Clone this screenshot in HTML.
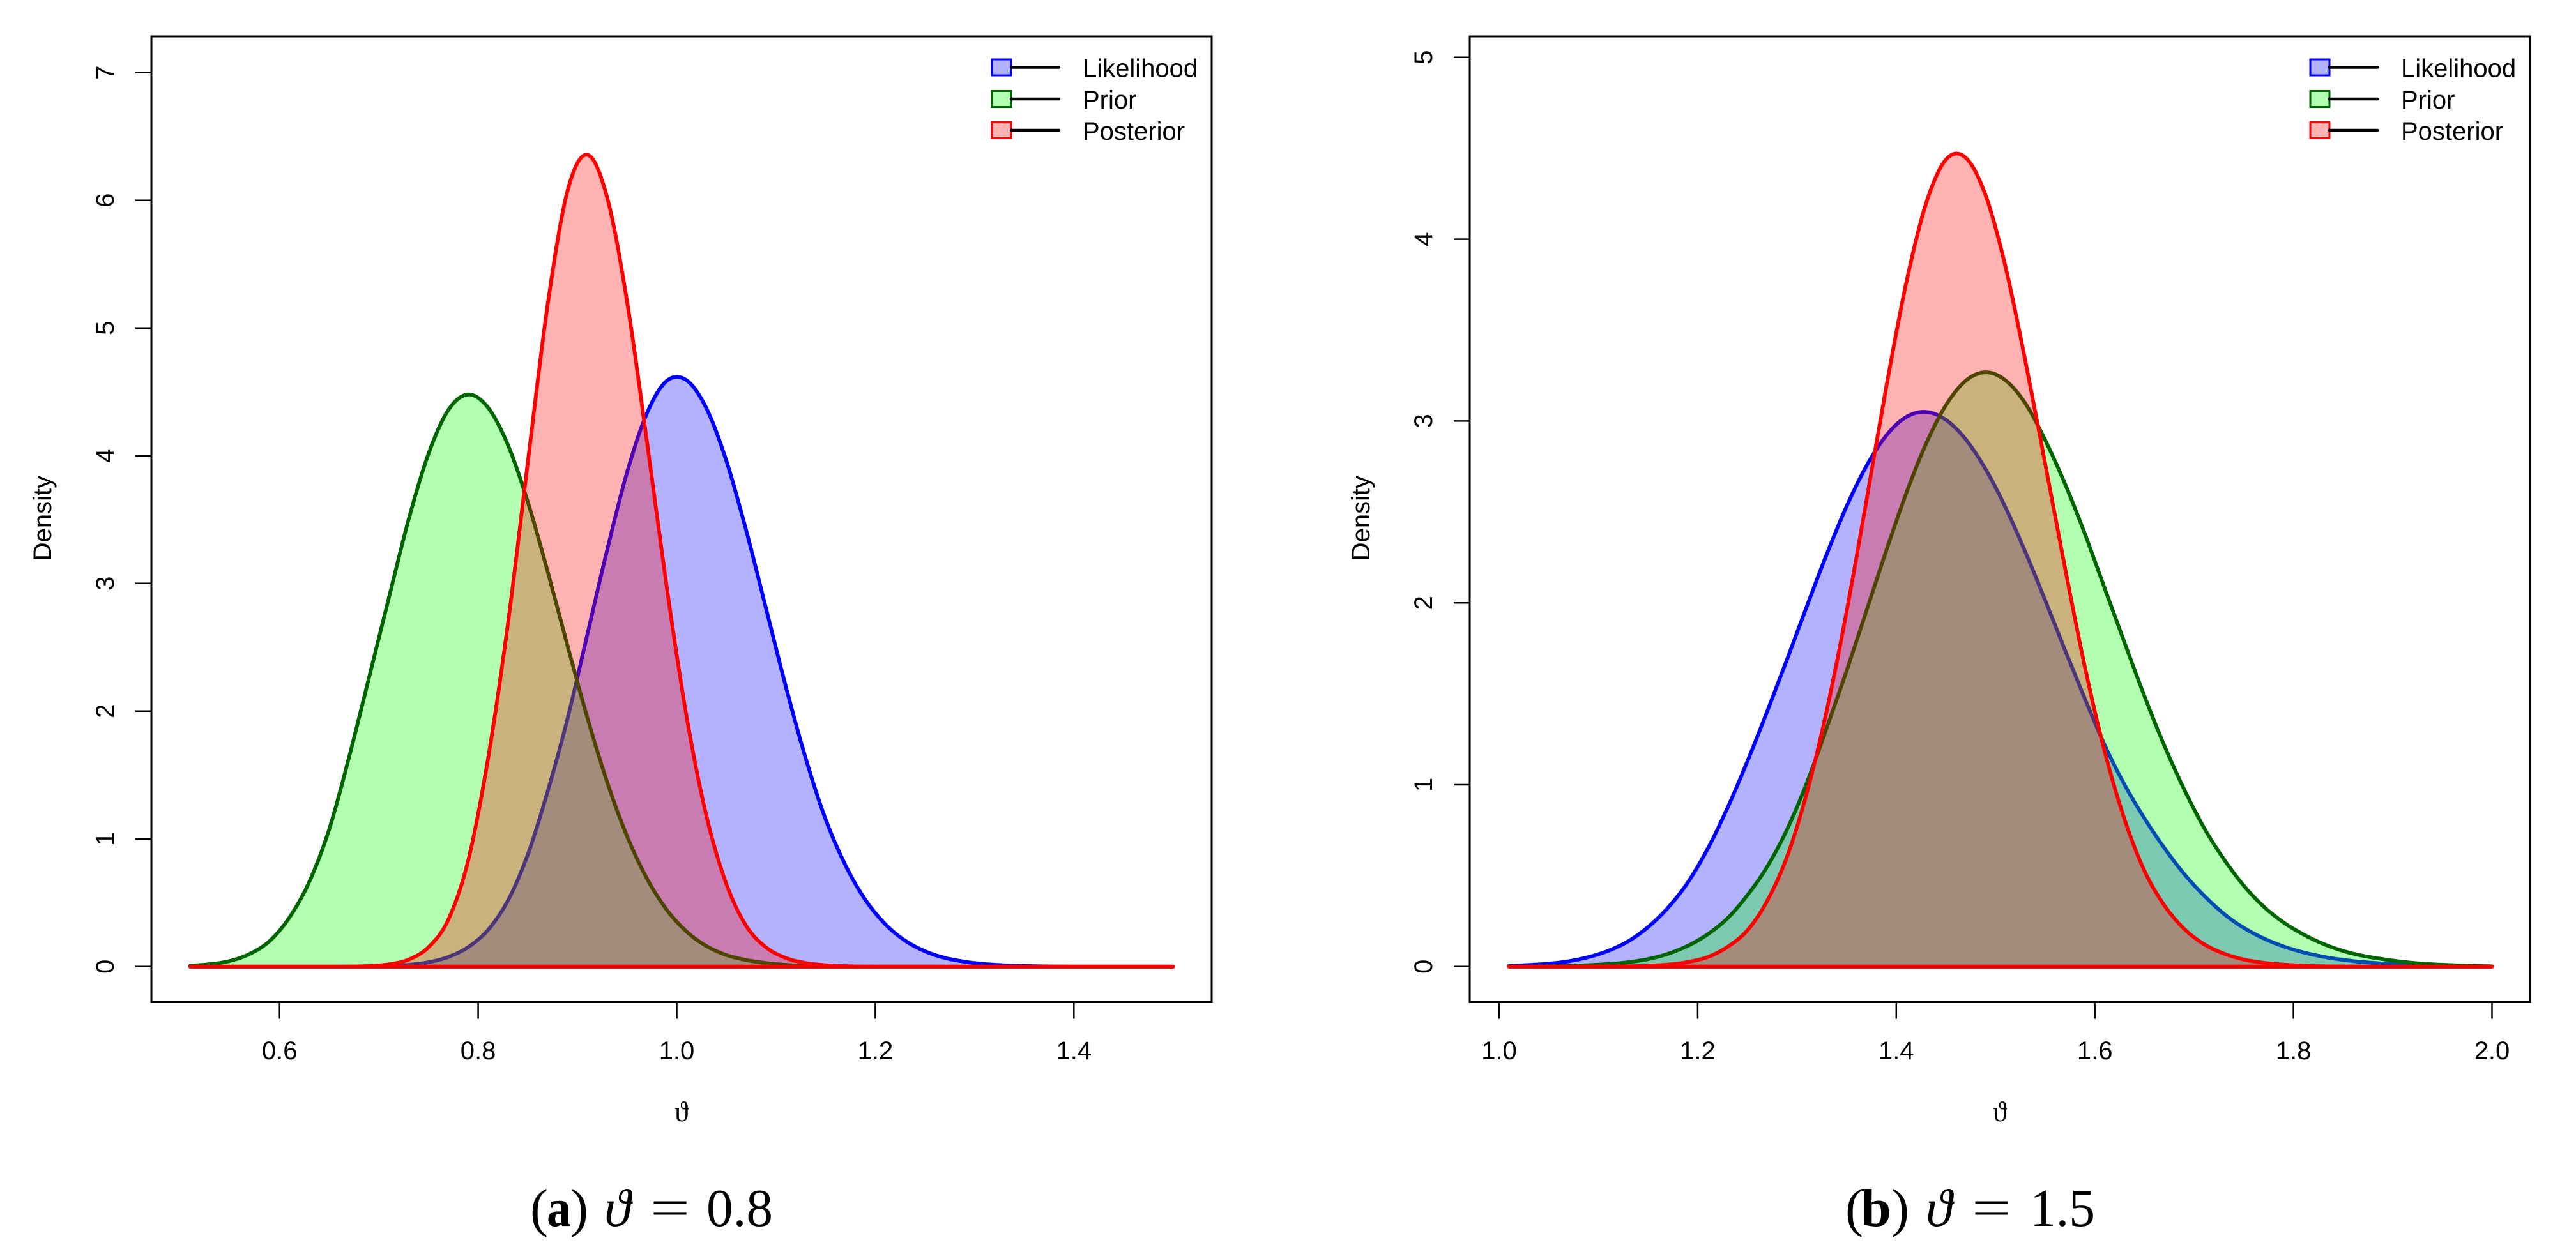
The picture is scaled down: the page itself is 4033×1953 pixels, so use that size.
<!DOCTYPE html>
<html lang="en">
<head>
<meta charset="utf-8">
<title>Likelihood, prior and posterior densities</title>
<style>
html,body{margin:0;padding:0;background:#fff;}
svg{display:block;}
text{font-family:"Liberation Sans",sans-serif;fill:#000;}
.cap{font-family:"Liberation Serif","DejaVu Serif",serif;font-size:84px;}
</style>
</head>
<body>
<svg id="chart" xmlns="http://www.w3.org/2000/svg" width="4033" height="1953" viewBox="0 0 4033 1953">
  <rect x="0" y="0" width="4033" height="1953" fill="#fff"/>
  <g id="plots"></g>

  <g>
    <text class="cap" x="830" y="1920" textLength="28" lengthAdjust="spacingAndGlyphs">(</text>
    <text class="cap" x="856" y="1920" font-weight="bold" textLength="38" lengthAdjust="spacingAndGlyphs">a</text>
    <text class="cap" x="893" y="1920" textLength="28" lengthAdjust="spacingAndGlyphs">)</text>
    <text class="cap" x="946" y="1920" font-style="italic">ϑ</text>
    <text class="cap" x="1018" y="1920" textLength="62" lengthAdjust="spacingAndGlyphs">=</text>
    <text class="cap" x="1106" y="1920" textLength="104" lengthAdjust="spacingAndGlyphs">0.8</text>
  </g>
  <g>
    <text class="cap" x="2889" y="1920" textLength="28" lengthAdjust="spacingAndGlyphs">(</text>
    <text class="cap" x="2913" y="1920" font-weight="bold" textLength="48" lengthAdjust="spacingAndGlyphs">b</text>
    <text class="cap" x="2961" y="1920" textLength="28" lengthAdjust="spacingAndGlyphs">)</text>
    <text class="cap" x="3015" y="1920" font-style="italic">ϑ</text>
    <text class="cap" x="3087" y="1920" textLength="62" lengthAdjust="spacingAndGlyphs">=</text>
    <text class="cap" x="3178" y="1920" textLength="102" lengthAdjust="spacingAndGlyphs">1.5</text>
  </g>
</svg>
<script>
// ---- Panel (a) data ----
const thetaA = [0.51,0.53,0.55,0.57,0.59,0.61,0.63,0.65,0.67,0.69,0.71,0.73,0.75,0.77,0.79,0.81,0.83,0.85,0.87,0.89,0.91,0.93,0.95,0.97,0.99,1.01,1.03,1.05,1.07,1.09,1.11,1.13,1.15,1.17,1.19,1.21,1.23,1.25,1.27,1.29,1.31,1.33,1.35,1.37,1.39,1.41,1.43,1.45,1.47,1.49,1.50];
const likelihoodA = [0,0,0,0,0,0,0,0,0.001,0.002,0.006,0.014,0.034,0.075,0.152,0.287,0.517,0.877,1.371,1.941,2.602,3.265,3.871,4.334,4.587,4.591,4.37,3.96,3.414,2.802,2.189,1.628,1.152,0.792,0.522,0.332,0.203,0.12,0.068,0.038,0.02,0.01,0.005,0.002,0.001,0,0,0,0,0,0];
const priorA = [0.007,0.019,0.044,0.099,0.2,0.385,0.665,1.075,1.64,2.26,2.885,3.502,4.016,4.359,4.48,4.377,4.084,3.639,3.094,2.513,1.949,1.443,1.02,0.689,0.444,0.273,0.16,0.09,0.051,0.028,0.014,0.006,0.003,0.001,0,0,0,0,0,0,0,0,0,0,0,0,0,0,0,0,0];
const posteriorA = [0,0,0,0,0,0,0,0,0.001,0.005,0.018,0.055,0.152,0.368,0.832,1.631,2.686,3.948,5.183,6.074,6.357,6.02,5.207,4.112,2.967,1.954,1.176,0.646,0.318,0.15,0.067,0.028,0.011,0.004,0.001,0,0,0,0,0,0,0,0,0,0,0,0,0,0,0,0];
const xTicksA = [0.6,0.8,1.0,1.2,1.4];
const yTicksA = [0,1,2,3,4,5,6,7];

// ---- Panel (b) data ----
const thetaB = [1.01,1.03,1.05,1.07,1.09,1.11,1.13,1.15,1.17,1.19,1.21,1.23,1.25,1.27,1.29,1.31,1.33,1.35,1.37,1.39,1.41,1.43,1.45,1.47,1.49,1.51,1.53,1.55,1.57,1.59,1.61,1.63,1.65,1.67,1.69,1.71,1.73,1.75,1.77,1.79,1.81,1.83,1.85,1.87,1.89,1.91,1.93,1.95,1.97,1.99,2.00];
const likelihoodB = [0.004,0.009,0.016,0.029,0.052,0.087,0.139,0.217,0.323,0.462,0.647,0.872,1.128,1.403,1.689,1.982,2.268,2.531,2.753,2.921,3.022,3.05,3.006,2.899,2.735,2.525,2.28,2.014,1.74,1.472,1.217,0.999,0.815,0.652,0.509,0.39,0.29,0.213,0.155,0.111,0.078,0.054,0.037,0.025,0.017,0.011,0.007,0.004,0.002,0.001,0];
const priorB = [0.001,0.001,0.002,0.004,0.008,0.014,0.024,0.041,0.07,0.114,0.177,0.265,0.392,0.549,0.754,1.011,1.313,1.626,1.957,2.289,2.602,2.875,3.087,3.222,3.268,3.224,3.097,2.895,2.654,2.379,2.079,1.78,1.487,1.215,0.974,0.763,0.59,0.445,0.33,0.243,0.177,0.125,0.086,0.059,0.041,0.026,0.016,0.01,0.006,0.003,0.002];
const posteriorB = [0,0,0,0,0,0.001,0.002,0.005,0.011,0.025,0.052,0.108,0.199,0.361,0.604,0.957,1.409,1.953,2.564,3.19,3.759,4.196,4.438,4.448,4.241,3.849,3.331,2.766,2.191,1.647,1.181,0.808,0.526,0.336,0.207,0.123,0.071,0.039,0.021,0.011,0.005,0.002,0.001,0,0,0,0,0,0,0,0];
const xTicksB = [1.0,1.2,1.4,1.6,1.8,2.0];
const yTicksB = [0,1,2,3,4,5];

const legendLabels = ['Likelihood','Prior','Posterior'];

const NS = 'http://www.w3.org/2000/svg';
const plotsRoot = document.getElementById('plots');
const STROKES = ['rgb(0,0,255)','rgb(0,100,0)','rgb(255,0,0)'];
const FILLS = ['rgba(0,0,255,0.3)','rgba(0,255,0,0.3)','rgba(255,0,0,0.3)'];
const SERIES_KEYS = ['likelihood','prior','posterior'];

function make(parent, tag, attrs, text) {
  const el = document.createElementNS(NS, tag);
  for (const k in attrs) el.setAttribute(k, attrs[k]);
  if (text !== undefined) el.textContent = text;
  parent.appendChild(el);
  return el;
}

function smoothPath(xs, ys, baseY) {
  const n = xs.length;
  const m = xs.map(function (_, i) {
    const a = Math.max(i - 1, 0), b = Math.min(i + 1, n - 1);
    return (ys[b] - ys[a]) / (xs[b] - xs[a]);
  });
  let d = 'M' + xs[0].toFixed(2) + ' ' + ys[0].toFixed(2);
  for (let i = 0; i < n - 1; i++) {
    const h = (xs[i + 1] - xs[i]) / 3;
    const c1y = Math.min(ys[i] + m[i] * h, baseY);
    const c2y = Math.min(ys[i + 1] - m[i + 1] * h, baseY);
    d += 'C' + (xs[i] + h).toFixed(2) + ' ' + c1y.toFixed(2) + ' ' + (xs[i + 1] - h).toFixed(2) + ' ' + c2y.toFixed(2) + ' ' + xs[i + 1].toFixed(2) + ' ' + ys[i + 1].toFixed(2);
  }
  d += 'L' + xs[n - 1].toFixed(2) + ' ' + baseY.toFixed(2) + 'L' + xs[0].toFixed(2) + ' ' + baseY.toFixed(2) + 'Z';
  return d;
}

function drawPanel(prefix, dx, theta, seriesList, xTicks, yTicks, xScale, yScale) {
  const g = make(plotsRoot, 'g', {});
  
  

  const box = { l: 237 + dx, r: 1897 + dx, t: 57, b: 1569.5 };
  const baseY = yScale(0);

  seriesList.forEach(function (vals, s) {
    const xs = theta.map(xScale);
    const ys = vals.map(yScale);
    const path = make(g, 'path', { d: smoothPath(xs, ys, baseY), fill: FILLS[s], stroke: STROKES[s], 'stroke-width': 5.8, 'stroke-linejoin': 'round' });
    
    
  });

  const frame = make(g, 'rect', { x: box.l, y: box.t, width: box.r - box.l, height: box.b - box.t, fill: 'none', stroke: '#000', 'stroke-width': 3 });
  
  

  xTicks.forEach(function (v) {
    const x = xScale(v);
    const tick = make(g, 'line', { x1: x, x2: x, y1: box.b, y2: 1595.5, stroke: '#000', 'stroke-width': 2.5 });
    
    
    const label = make(g, 'text', { x: x, y: 1659, 'font-size': 40, 'text-anchor': 'middle' }, v.toFixed(1));
    
    
  });

  yTicks.forEach(function (v) {
    const y = yScale(v);
    const tick = make(g, 'line', { x1: box.l - 25, x2: box.l, y1: y, y2: y, stroke: '#000', 'stroke-width': 2.5 });
    
    
    const lx = 178 + dx;
    const label = make(g, 'text', { x: lx, y: y, 'font-size': 40, 'text-anchor': 'middle', transform: 'rotate(-90 ' + lx + ' ' + y + ')' }, String(v));
    
    
  });

  const yTitle = make(g, 'text', { x: 80 + dx, y: 811.5, 'font-size': 40, 'text-anchor': 'middle', transform: 'rotate(-90 ' + (80 + dx) + ' 811.5)' }, 'Density');
  
  

  const xTitle = make(g, 'text', { x: 1067 + dx, y: 1756, 'font-size': 44, 'text-anchor': 'middle', style: 'font-family:"Liberation Serif","DejaVu Serif",serif' }, 'ϑ');
  
  

  const legend = make(g, 'g', {});
  
  
  const rowY = [105.5, 155, 204];
  legendLabels.forEach(function (name, s) {
    const cy = rowY[s];
    const entry = make(legend, 'g', {});
    
    
    make(entry, 'rect', { x: 1553 + dx, y: cy - 12.5, width: 30, height: 25, fill: FILLS[s], stroke: STROKES[s], 'stroke-width': 3 });
    make(entry, 'line', { x1: 1583 + dx, x2: 1658 + dx, y1: cy, y2: cy, stroke: '#000', 'stroke-width': 4.5, 'stroke-linecap': 'round' });
    make(entry, 'text', { x: 1695 + dx, y: cy + 15, 'font-size': 40 }, name);
  });
}

function xScaleA(v) { return 437.7 + (v - 0.6) * 1554.5; }
function yScaleA(v) { return 1513.8 - v * 200; }
function xScaleB(v) { return 2347 + (v - 1.0) * 1554.5; }
function yScaleB(v) { return 1513.8 - v * 284.8; }

drawPanel('panel-a', 0, thetaA, [likelihoodA, priorA, posteriorA], xTicksA, yTicksA, xScaleA, yScaleA);
drawPanel('panel-b', 2064, thetaB, [likelihoodB, priorB, posteriorB], xTicksB, yTicksB, xScaleB, yScaleB);
</script>
</body>
</html>
